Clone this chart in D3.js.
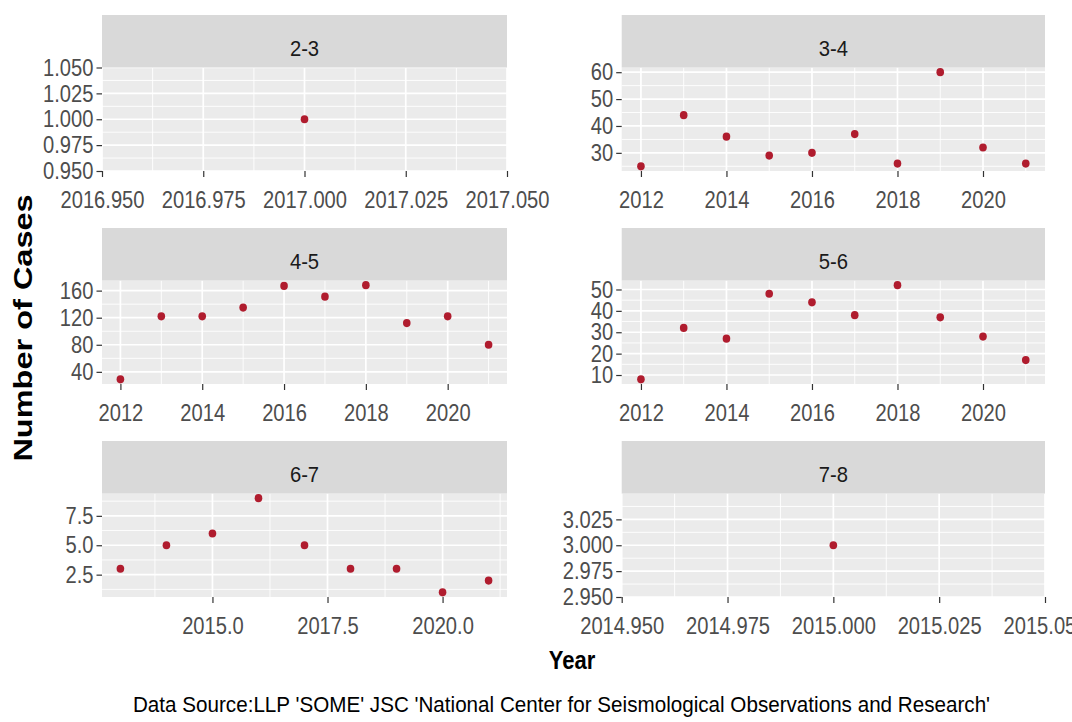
<!DOCTYPE html>
<html>
<head>
<meta charset="utf-8">
<script src="https://cdn.jsdelivr.net/npm/d3@7"></script>
<style>
  html, body { margin: 0; padding: 0; background: #ffffff; }
  svg { display: block; overflow: hidden; }
</style>
</head>
<body>
<svg id="chart" width="1072" height="722"></svg>
<script>
// Earthquake counts per year, faceted by magnitude band
const magnitudeBands = ["2-3", "3-4", "4-5", "5-6", "6-7", "7-8"];

const years_2_3 = [2017];
const cases_2_3 = [1];

const years_3_4 = [2012, 2013, 2014, 2015, 2016, 2017, 2018, 2019, 2020, 2021];
const cases_3_4 = [25, 44, 36, 29, 30, 37, 26, 60, 32, 26];

const years_4_5 = [2012, 2013, 2014, 2015, 2016, 2017, 2018, 2019, 2020, 2021];
const cases_4_5 = [29, 122, 122, 135, 167, 151, 168, 112, 122, 80];

const years_5_6 = [2012, 2013, 2014, 2015, 2016, 2017, 2018, 2019, 2020, 2021];
const cases_5_6 = [8, 32, 27, 48, 44, 38, 52, 37, 28, 17];

const years_6_7 = [2013, 2014, 2015, 2016, 2017, 2018, 2019, 2020, 2021];
const cases_6_7 = [3, 5, 6, 9, 5, 3, 3, 1, 2];

const years_7_8 = [2015];
const cases_7_8 = [3];

// Tick labels for each facet (free scales)
const xTicks_2_3 = ["2016.950", "2016.975", "2017.000", "2017.025", "2017.050"];
const yTicks_2_3 = ["0.950", "0.975", "1.000", "1.025", "1.050"];
const xTicks_3_4 = ["2012", "2014", "2016", "2018", "2020"];
const yTicks_3_4 = ["30", "40", "50", "60"];
const xTicks_4_5 = ["2012", "2014", "2016", "2018", "2020"];
const yTicks_4_5 = ["40", "80", "120", "160"];
const xTicks_5_6 = ["2012", "2014", "2016", "2018", "2020"];
const yTicks_5_6 = ["10", "20", "30", "40", "50"];
const xTicks_6_7 = ["2015.0", "2017.5", "2020.0"];
const yTicks_6_7 = ["2.5", "5.0", "7.5"];
const xTicks_7_8 = ["2014.950", "2014.975", "2015.000", "2015.025", "2015.050"];
const yTicks_7_8 = ["2.950", "2.975", "3.000", "3.025"];

const xTitle = "Year";
const yTitle = "Number of Cases";
const caption = "Data Source:LLP 'SOME' JSC 'National Center for Seismological Observations and Research'";

const facets = [
  { band: magnitudeBands[0], years: years_2_3, cases: cases_2_3, xt: xTicks_2_3, yt: yTicks_2_3 },
  { band: magnitudeBands[1], years: years_3_4, cases: cases_3_4, xt: xTicks_3_4, yt: yTicks_3_4 },
  { band: magnitudeBands[2], years: years_4_5, cases: cases_4_5, xt: xTicks_4_5, yt: yTicks_4_5 },
  { band: magnitudeBands[3], years: years_5_6, cases: cases_5_6, xt: xTicks_5_6, yt: yTicks_5_6 },
  { band: magnitudeBands[4], years: years_6_7, cases: cases_6_7, xt: xTicks_6_7, yt: yTicks_6_7 },
  { band: magnitudeBands[5], years: years_7_8, cases: cases_7_8, xt: xTicks_7_8, yt: yTicks_7_8 }
];

// ---- layout ----
const FONT = "'Liberation Sans', Arial, Helvetica, sans-serif";
const TICK_SIZE = 24, TICK_SQ = 0.84;      // narrow tick labels
const colX = [[102, 507], [621.7, 1045]];
const stripTop = [15, 228, 441];
const stripH = 52.5, panelH = 103.5;

const svg = d3.select("#chart");
const root = svg.append("g");

function paddedDomain(vals) {
  const [lo, hi] = d3.extent(vals);
  if (lo === hi) return [lo - 0.05, hi + 0.05];
  const pad = (hi - lo) * 0.05;
  return [lo - pad, hi + pad];
}

function minorBreaks(major, domain) {
  const step = major[1] - major[0];
  const out = [];
  for (let k = -1; k <= major.length; k++) {
    const v = major[0] + step * (k + 0.5);
    if (v > domain[0] + 1e-9 && v < domain[1] - 1e-9) out.push(v);
  }
  return out;
}

facets.forEach((f, i) => {
  const col = i % 2, row = Math.floor(i / 2);
  const left = colX[col][0], right = colX[col][1];
  const sTop = stripTop[row];
  const top = sTop + stripH, bottom = top + panelH;

  const xMajor = f.xt.map(Number);
  const yMajor = f.yt.map(Number);
  const x = d3.scaleLinear().domain(paddedDomain(f.years)).range([left, right]);
  const y = d3.scaleLinear().domain(paddedDomain(f.cases)).range([bottom, top]);

  const g = root.append("g");

  // panel background
  g.append("rect")
    .attr("x", left).attr("y", top)
    .attr("width", right - left).attr("height", bottom - top)
    .attr("fill", "#EBEBEB");

  // minor grid
  g.selectAll(".vmin").data(minorBreaks(xMajor, x.domain())).join("line")
    .attr("x1", d => x(d)).attr("x2", d => x(d)).attr("y1", top).attr("y2", bottom)
    .attr("stroke", "#ffffff").attr("stroke-width", 0.9);
  g.selectAll(".hmin").data(minorBreaks(yMajor, y.domain())).join("line")
    .attr("y1", d => y(d)).attr("y2", d => y(d)).attr("x1", left).attr("x2", right)
    .attr("stroke", "#ffffff").attr("stroke-width", 0.9);

  // major grid
  g.selectAll(".vmaj").data(xMajor).join("line")
    .attr("x1", d => x(d)).attr("x2", d => x(d)).attr("y1", top).attr("y2", bottom)
    .attr("stroke", "#ffffff").attr("stroke-width", 1.7);
  g.selectAll(".hmaj").data(yMajor).join("line")
    .attr("y1", d => y(d)).attr("y2", d => y(d)).attr("x1", left).attr("x2", right)
    .attr("stroke", "#ffffff").attr("stroke-width", 1.7);

  // strip
  g.append("rect")
    .attr("x", left).attr("y", sTop)
    .attr("width", right - left).attr("height", stripH)
    .attr("fill", "#D9D9D9");
  g.append("text")
    .attr("transform", `translate(${(left + right) / 2},${sTop + 40.5}) scale(0.92,1)`)
    .attr("text-anchor", "middle")
    .attr("font-family", FONT).attr("font-size", 22)
    .attr("fill", "#1A1A1A")
    .text(f.band);

  // x axis
  const xAxis = d3.axisBottom(x)
    .tickValues(xMajor)
    .tickFormat((d, k) => f.xt[k])
    .tickSize(6).tickSizeOuter(0).tickPadding(14);
  const gx = g.append("g")
    .attr("transform", `translate(0,${bottom})`)
    .call(xAxis)
    .attr("font-family", FONT).attr("font-size", TICK_SIZE);
  gx.select(".domain").remove();
  gx.selectAll(".tick line").attr("stroke", "#333333").attr("stroke-width", 1.2);
  gx.selectAll(".tick text").attr("fill", "#4D4D4D")
    .attr("transform", `scale(${TICK_SQ},1)`);

  // y axis
  const yTickLen = 5.5, yPad = 3;
  const yAxis = d3.axisLeft(y)
    .tickValues(yMajor)
    .tickFormat((d, k) => f.yt[k])
    .tickSize(yTickLen).tickSizeOuter(0).tickPadding(yPad);
  const gy = g.append("g")
    .attr("transform", `translate(${left},0)`)
    .call(yAxis)
    .attr("font-family", FONT).attr("font-size", TICK_SIZE);
  gy.select(".domain").remove();
  gy.selectAll(".tick line").attr("stroke", "#333333").attr("stroke-width", 1.2);
  gy.selectAll(".tick text").attr("fill", "#4D4D4D")
    .attr("x", -(yTickLen + yPad) / TICK_SQ)
    .attr("transform", `scale(${TICK_SQ},1)`);

  // points
  g.selectAll(".pt").data(f.years.map((yr, k) => ({ yr, n: f.cases[k] }))).join("ellipse")
    .attr("cx", d => x(d.yr)).attr("cy", d => y(d.n))
    .attr("rx", 3.8).attr("ry", 4.1)
    .attr("fill", "#B01C2E");
});

// axis titles and caption
root.append("text")
  .attr("transform", `translate(572,669) scale(0.88,1)`)
  .attr("text-anchor", "middle")
  .attr("font-family", FONT).attr("font-weight", "bold").attr("font-size", 25)
  .attr("fill", "#000000")
  .text(xTitle);

root.append("text")
  .attr("transform", `translate(23,328) scale(0.8,1) rotate(-90)`)
  .attr("dy", "0.36em")
  .attr("text-anchor", "middle")
  .attr("font-family", FONT).attr("font-weight", "bold").attr("font-size", 32.5)
  .attr("fill", "#000000")
  .text(yTitle);

root.append("text")
  .attr("transform", `translate(561.5,712) scale(0.93,1)`)
  .attr("text-anchor", "middle")
  .attr("font-family", FONT).attr("font-size", 22.2)
  .attr("fill", "#000000")
  .text(caption);
</script>
</body>
</html>
